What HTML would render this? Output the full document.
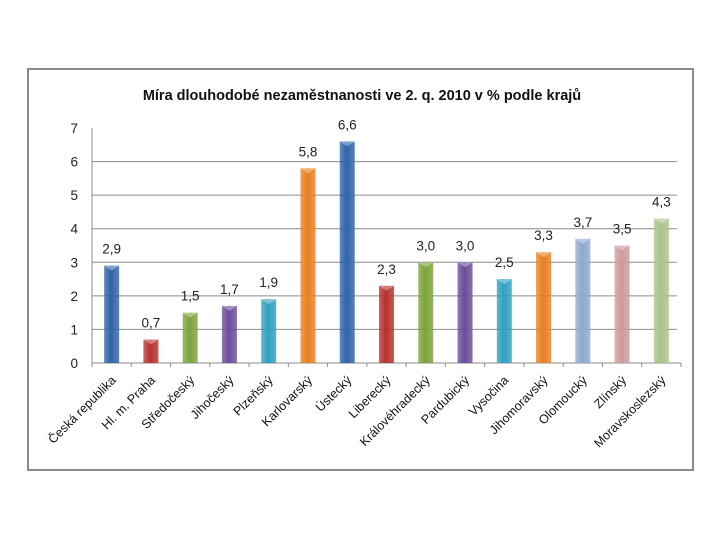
<!DOCTYPE html>
<html><head><meta charset="utf-8"><style>
body{margin:0;background:#fff;}
svg{display:block;font-family:"Liberation Sans","DejaVu Sans",sans-serif;}
</style></head><body>
<svg id="chart" width="720" height="540" viewBox="0 0 720 540">
<rect x="28" y="69" width="665" height="401" fill="#fff" stroke="#8a8a8a" stroke-width="2"/>
<text x="362" y="100" text-anchor="middle" font-size="14.5" font-weight="bold" fill="#111">Míra dlouhodobé nezaměstnanosti ve 2. q. 2010 v % podle krajů</text>
<g id="grid"></g><g id="bars"></g><g id="labels"></g>
</svg>
<script>
const categories=["Česká republika","Hl. m. Praha","Středočeský","Jihočeský","Plzeňský","Karlovarský","Ústecký","Liberecký","Královéhradecký","Pardubický","Vysočina","Jihomoravský","Olomoucký","Zlínský","Moravskoslezský"];
const values=[2.9,0.7,1.5,1.7,1.9,5.8,6.6,2.3,3.0,3.0,2.5,3.3,3.7,3.5,4.3];
const valueLabels=["2,9","0,7","1,5","1,7","1,9","5,8","6,6","2,3","3,0","3,0","2,5","3,3","3,7","3,5","4,3"];
const yTicks=[0,1,2,3,4,5,6,7];
const colors=["#2e64a8","#b7312c","#7ba33a","#6b4c9a","#2fa0c0","#e8801f","#2e64a8","#b7312c","#7ba33a","#6b4c9a","#2fa0c0","#e8801f","#8fa8cf","#cf9a9a","#a8c48c"];
const NS="http://www.w3.org/2000/svg";
const x0=92,x1=681,y0=363,yTop=128,yMax=7;
const bw=(x1-x0)/categories.length;
const Y=v=>y0-(v/yMax)*(y0-yTop);
const X=i=>x0+bw*(i+0.5);
function mk(t,a,p){const e=document.createElementNS(NS,t);for(const k in a)e.setAttribute(k,a[k]);p.appendChild(e);return e;}
const grid=document.getElementById('grid'),bars=document.getElementById('bars'),labels=document.getElementById('labels');
yTicks.forEach(t=>{
 if(t>0&&t<7){const l=mk('line',{x1:x0,x2:x1-4,y1:Y(t),y2:Y(t),stroke:'#8c8c8c','stroke-width':1},grid);
 
 }
 const tx=mk('text',{x:78,y:Y(t)+5,'text-anchor':'end','font-size':13.5,fill:'#222'},grid);tx.textContent=t;
 
 
});
const ax=mk('line',{x1:x0,x2:x0,y1:yTop,y2:y0,stroke:'#8c8c8c'},grid);


const xa=mk('line',{x1:x0,x2:x1,y1:y0,y2:y0,stroke:'#8c8c8c'},grid);


for(let i=0;i<=categories.length;i++){const tk=mk('line',{x1:x0+bw*i,x2:x0+bw*i,y1:y0,y2:y0+4,stroke:'#8c8c8c'},grid);
 
 }
const defs=mk('defs',{},document.getElementById('chart'));
categories.forEach((c,i)=>{
 const g=mk('linearGradient',{id:'g'+i,x1:0,x2:1,y1:0,y2:0},defs);
 mk('stop',{offset:0,'stop-color':colors[i],'stop-opacity':0.75},g);
 mk('stop',{offset:0.45,'stop-color':colors[i]},g);
 mk('stop',{offset:1,'stop-color':colors[i],'stop-opacity':0.8},g);
 const w=15,cx=X(i),top=Y(values[i]);
 const r=mk('rect',{x:cx-w/2,y:top,width:w,height:y0-top,fill:'url(#g'+i+')'},bars);
 
 
 mk('polygon',{points:`${cx-w/2},${top} ${cx+w/2},${top} ${cx},${top+5}`,fill:'#fff','fill-opacity':0.35},bars);
 const vl=mk('text',{x:cx,y:top-12,'text-anchor':'middle','font-size':13.5,fill:'#222'},labels);vl.textContent=valueLabels[i];
 
 
 const cl=mk('text',{x:0,y:0,'text-anchor':'end','font-size':12.5,fill:'#111',transform:`translate(${cx+5},${y0+18}) rotate(-45)`},labels);cl.textContent=c;
 
 
});
</script>
</body></html>
